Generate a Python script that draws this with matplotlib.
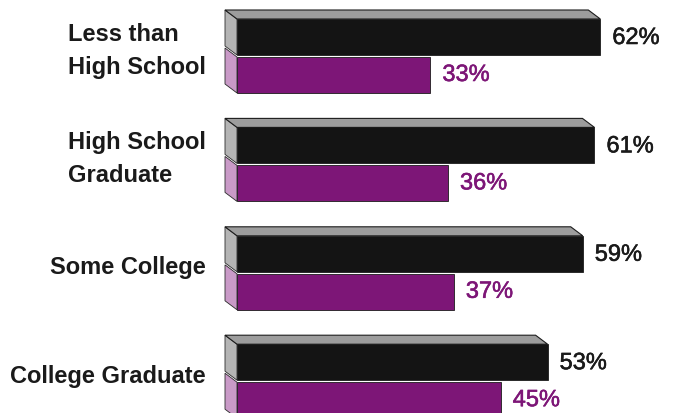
import numpy as np
import matplotlib.pyplot as plt
from matplotlib.patches import Polygon
import matplotlib.patheffects as pe

plt.rcParams['font.family'] = ['Liberation Sans', 'DejaVu Sans']

# 数据
groups = ['Less than\nHigh School', 'High School\nGraduate', 'Some College', 'College Graduate']
black_vals = [62, 61, 59, 53]
purple_vals = [33, 36, 37, 45]

black_col = '#141414'
purple_col = '#7d1677'
top_col = '#9d9d9d'
side_col = '#b4b4b4'
pside_col = '#c99ac7'

# 像素坐标: 1% = 5.86 px, 条形从 x=237 开始
px = 5.86
x0 = 237
W, H = 674, 413
pitch = 108.4
bar_h = 36
dx, dy = 12 / px, 9   # 立体深度 (x 用百分比, y 用像素)

fig = plt.figure(figsize=(W / 100, H / 100), dpi=100)
ax = fig.add_axes([0, 0, 1, 1])
ax.set_xlim(-x0 / px, (W - x0) / px)
ax.set_ylim(H, 0)
ax.axis('off')


def bar3d(y, v, front, top, side, draw_top=True):
    # 正面
    ax.barh(y, v, height=bar_h, left=0, color=front, edgecolor='#1c1c1c',
            linewidth=0.6, zorder=3)
    t = y - bar_h / 2
    b = y + bar_h / 2
    # 左侧面
    ax.add_patch(Polygon([(0, t), (-dx, t - dy), (-dx, b - dy), (0, b)],
                         closed=True, facecolor=side, edgecolor='#2a2a2a',
                         linewidth=0.6, zorder=2))
    # 顶面
    if draw_top:
        ax.add_patch(Polygon([(0, t), (-dx, t - dy), (v - dx, t - dy), (v, t)],
                             closed=True, facecolor=top, edgecolor='#1c1c1c',
                             linewidth=0.8, zorder=2))


for i, g in enumerate(groups):
    yb = 37 + pitch * i
    yp = yb + bar_h + 2
    bar3d(yp, purple_vals[i], purple_col, None, pside_col, draw_top=False)
    bar3d(yb, black_vals[i], black_col, top_col, side_col)

    ax.text(black_vals[i] + 12 / px, yb + 1, f'{black_vals[i]}%', fontsize=17,
            color='#1a1a1a', va='center', ha='left',
            path_effects=[pe.withStroke(linewidth=0.4, foreground='#1a1a1a')])
    ax.text(purple_vals[i] + 12 / px, yp, f'{purple_vals[i]}%', fontsize=17,
            color=purple_col, va='center', ha='left',
            path_effects=[pe.withStroke(linewidth=0.4, foreground=purple_col)])

    ax.text((206 - x0) / px, yb + bar_h / 2 - 4, g, fontsize=17, fontweight='bold',
            color='#1a1a1a', ha='right', va='center', multialignment='left',
            linespacing=1.55)

fig.savefig('out.png', dpi=100, facecolor='white')
